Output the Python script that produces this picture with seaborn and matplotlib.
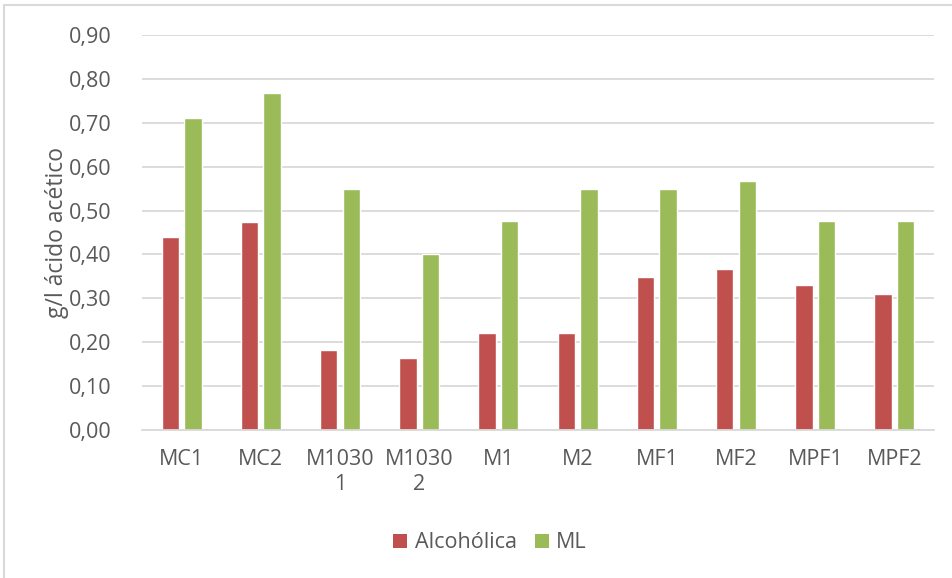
import matplotlib
matplotlib.use("Agg")
import matplotlib.pyplot as plt
from matplotlib.lines import Line2D
from matplotlib.patches import Patch
import seaborn as sns
import pandas as pd

categories = ["MC1", "MC2", "M1030\n1", "M1030\n2", "M1", "M2", "MF1", "MF2", "MPF1", "MPF2"]
alcoholica = [0.44, 0.475, 0.182, 0.164, 0.22, 0.22, 0.348, 0.366, 0.33, 0.31]
ml = [0.712, 0.768, 0.548, 0.402, 0.476, 0.548, 0.548, 0.567, 0.476, 0.476]
series = ["Alcohólica", "ML"]
colors = ["#C0504D", "#9BBB59"]
y_ticks = [0.0, 0.1, 0.2, 0.3, 0.4, 0.5, 0.6, 0.7, 0.8, 0.9]

df = pd.DataFrame({
    "muestra": categories * 2,
    "valor": alcoholica + ml,
    "fase": [series[0]] * len(categories) + [series[1]] * len(categories),
})

sns.set_theme(style="white")
plt.rcParams["font.family"] = ["Open Sans", "DejaVu Sans"]
text_color = "#595959"
grid_color = "#D9D9D9"
fs = 15.5

fig = plt.figure(figsize=(9.53, 5.78), dpi=100)
ax = fig.add_axes([142 / 953, 1 - 430 / 578, (934 - 142) / 953, (430 - 35) / 578])

sns.barplot(data=df, x="muestra", y="valor", hue="fase", hue_order=series,
            palette=colors, width=0.57, gap=0.23, saturation=1, ax=ax,
            legend=False)

ax.set_ylim(0, 0.9)
ax.set_yticks(y_ticks)
ax.set_yticklabels([f"{v:.2f}".replace(".", ",") for v in y_ticks])
ax.set_xlim(-0.5, len(categories) - 0.5)
ax.set_xlabel("")
ax.set_ylabel("g/l ácido acético", fontsize=16.5, color=text_color, labelpad=0)
ax.set_axisbelow(True)
ax.yaxis.grid(True, color=grid_color, linewidth=1.3)
for s in ["top", "right", "left"]:
    ax.spines[s].set_visible(False)
ax.spines["bottom"].set_color(grid_color)
ax.spines["bottom"].set_linewidth(1.3)
ax.tick_params(axis="both", length=0, labelsize=fs, colors=text_color)
ax.tick_params(axis="y", pad=22)
ax.tick_params(axis="x", pad=14)
for lbl in ax.get_xticklabels():
    lbl.set_linespacing(1.2)
    lbl.set_verticalalignment("top")

handles = [Patch(facecolor=c, edgecolor="none") for c in colors]
fig.legend(handles, series, loc="center", bbox_to_anchor=(490 / 953, 1 - 543 / 578),
           ncol=2, frameon=False, fontsize=fs, labelcolor=text_color,
           handlelength=0.65, handleheight=0.65, handletextpad=0.35, columnspacing=0.85)

# chart frame edges
fig.add_artist(Line2D([4 / 953, 4 / 953], [0, 1 - 5 / 578], color=grid_color, linewidth=1.5,
                      transform=fig.transFigure))
fig.add_artist(Line2D([4 / 953, 1], [1 - 5 / 578, 1 - 5 / 578], color=grid_color, linewidth=1.5,
                      transform=fig.transFigure))

fig.savefig("out.png", dpi=100, facecolor="white")
